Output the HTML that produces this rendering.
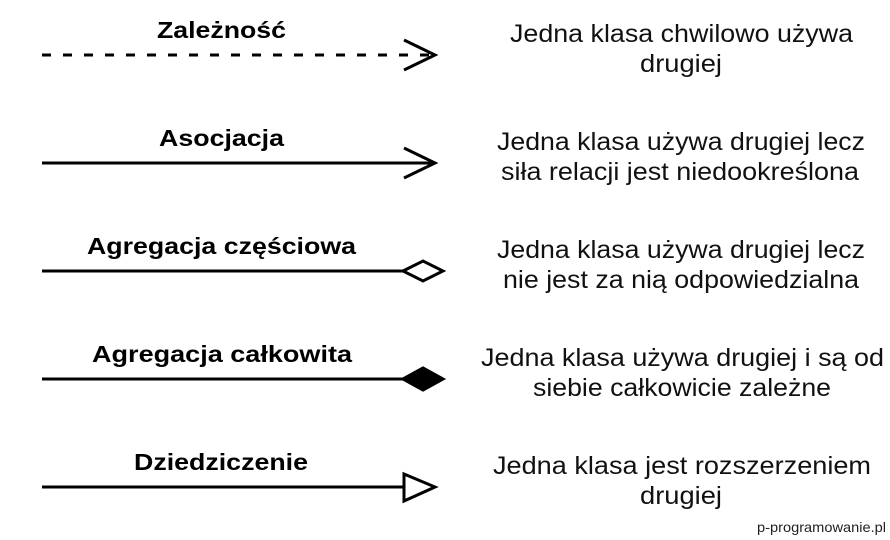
<!DOCTYPE html>
<html><head><meta charset="utf-8"><style>
html,body{margin:0;padding:0;background:#fff;}
svg{display:block;}
.l{font-family:"Liberation Sans",sans-serif;font-weight:bold;font-size:23px;fill:#000;}
.d{font-family:"Liberation Sans",sans-serif;font-size:25px;fill:#111;}
</style></head><body>
<svg width="890" height="540" viewBox="0 0 890 540" xmlns="http://www.w3.org/2000/svg">
<g stroke="#000" stroke-width="3" fill="none">
<line x1="42" y1="55" x2="434" y2="55" stroke-dasharray="9,12"/>
<polyline points="404,40 435,55 404,70"/>
<line x1="42" y1="163" x2="434" y2="163"/>
<polyline points="404,148 435,163 404,178"/>
<line x1="42" y1="271" x2="403" y2="271"/>
<polygon points="403,271 423,261 443,271 423,281" fill="#fff"/>
<line x1="42" y1="379" x2="403" y2="379"/>
<polygon points="403,379 423,368 443,379 423,390" fill="#000"/>
<line x1="42" y1="487" x2="404" y2="487"/>
<polygon points="404,474 435,487 404,501" fill="#fff"/>
</g>
<text class="l" x="157" y="38" textLength="129" lengthAdjust="spacingAndGlyphs">Zależność</text>
<text class="l" x="159" y="146" textLength="125" lengthAdjust="spacingAndGlyphs">Asocjacja</text>
<text class="l" x="87" y="254" textLength="269" lengthAdjust="spacingAndGlyphs">Agregacja częściowa</text>
<text class="l" x="92" y="362" textLength="260" lengthAdjust="spacingAndGlyphs">Agregacja całkowita</text>
<text class="l" x="134" y="470" textLength="174" lengthAdjust="spacingAndGlyphs">Dziedziczenie</text>

<text class="d" x="510" y="42" textLength="343" lengthAdjust="spacingAndGlyphs">Jedna klasa chwilowo używa</text>
<text class="d" x="640" y="72" textLength="82" lengthAdjust="spacingAndGlyphs">drugiej</text>
<text class="d" x="497" y="150" textLength="368" lengthAdjust="spacingAndGlyphs">Jedna klasa używa drugiej lecz</text>
<text class="d" x="501" y="180" textLength="358" lengthAdjust="spacingAndGlyphs">siła relacji jest niedookreślona</text>
<text class="d" x="497" y="258" textLength="368" lengthAdjust="spacingAndGlyphs">Jedna klasa używa drugiej lecz</text>
<text class="d" x="503" y="288" textLength="356" lengthAdjust="spacingAndGlyphs">nie jest za nią odpowiedzialna</text>
<text class="d" x="481" y="366" textLength="403" lengthAdjust="spacingAndGlyphs">Jedna klasa używa drugiej i są od</text>
<text class="d" x="533" y="396" textLength="298" lengthAdjust="spacingAndGlyphs">siebie całkowicie zależne</text>
<text class="d" x="493" y="474" textLength="378" lengthAdjust="spacingAndGlyphs">Jedna klasa jest rozszerzeniem</text>
<text class="d" x="640" y="504" textLength="82" lengthAdjust="spacingAndGlyphs">drugiej</text>

<text x="757" y="532" font-family="Liberation Sans,sans-serif" font-size="14" fill="#222" textLength="129" lengthAdjust="spacingAndGlyphs">p-programowanie.pl</text>
</svg>
</body></html>
